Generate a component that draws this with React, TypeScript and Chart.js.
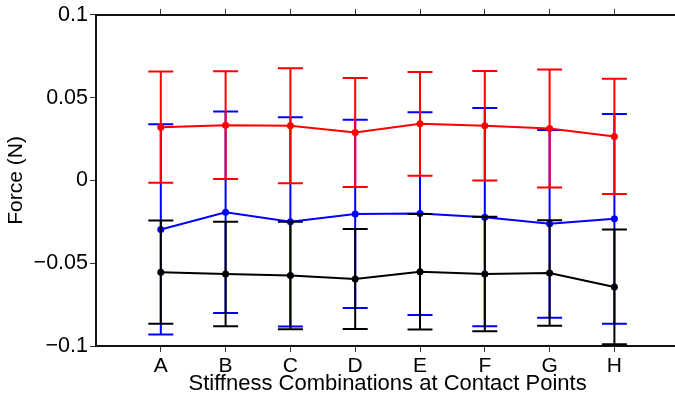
import { useEffect, useRef } from 'react';
import { Chart, registerables } from 'chart.js';

Chart.register(...registerables);

const categories = ['A', 'B', 'C', 'D', 'E', 'F', 'G', 'H'];
const yTicks = [-0.1, -0.05, 0, 0.05, 0.1];

const redMean = [0.0322, 0.0334, 0.033, 0.029, 0.0342, 0.033, 0.0314, 0.0266];
const redErr = [0.0336, 0.0325, 0.0347, 0.0329, 0.0313, 0.0331, 0.0356, 0.0348];

const blueMean = [-0.0296, -0.0192, -0.025, -0.0202, -0.02, -0.0222, -0.0262, -0.0232];
const blueErr = [0.0635, 0.0609, 0.0632, 0.0568, 0.0612, 0.0659, 0.0567, 0.0633];

const blackMean = [-0.0554, -0.0565, -0.0574, -0.0595, -0.0551, -0.0565, -0.0559, -0.0643];
const blackErr = [0.0312, 0.0315, 0.0325, 0.0302, 0.0349, 0.0346, 0.0319, 0.0347];

const FONT = '"Liberation Sans", Arial, Helvetica, sans-serif';
const CAP = 12.5;

const errorBarPlugin = {
  id: 'errorBars',
  beforeDatasetDraw(chart: any, args: any) {
    const ds: any = chart.data.datasets[args.index];
    if (!ds.errors) return;
    const { ctx } = chart;
    const xs = chart.scales.x;
    const ys = chart.scales.y;
    ctx.save();
    ctx.strokeStyle = ds.borderColor;
    ctx.lineWidth = 2;
    ds.data.forEach((p: any, i: number) => {
      const e = ds.errors[i];
      const px = xs.getPixelForValue(p.x);
      const top = ys.getPixelForValue(p.y + e);
      const bot = ys.getPixelForValue(p.y - e);
      ctx.beginPath();
      ctx.moveTo(px, top);
      ctx.lineTo(px, bot);
      ctx.moveTo(px - CAP, top);
      ctx.lineTo(px + CAP, top);
      ctx.moveTo(px - CAP, bot);
      ctx.lineTo(px + CAP, bot);
      ctx.stroke();
    });
    ctx.restore();
  },
};

const toPoints = (vals: number[]) => vals.map((v, i) => ({ x: i + 1, y: v }));
const catTicks = (s: any) => {
  s.ticks = categories.map((_, i) => ({ value: i + 1 }));
};

export default function App() {
  const ref = useRef<HTMLCanvasElement>(null);

  useEffect(() => {
    if (!ref.current) return;
    const grid = {
      display: true,
      drawOnChartArea: false,
      drawTicks: true,
      tickLength: 6,
      color: '#333',
      lineWidth: 1,
    };
    const border = { display: true, color: '#111', width: 2 };
    const chart = new Chart(ref.current, {
      type: 'line',
      data: {
        datasets: [
          {
            label: 'red',
            data: toPoints(redMean),
            errors: redErr,
            borderColor: '#ff0000',
            backgroundColor: '#ff0000',
            borderWidth: 2,
            pointRadius: 3.5,
            pointBorderWidth: 0,
            tension: 0,
          } as any,
          {
            label: 'black',
            data: toPoints(blackMean),
            errors: blackErr,
            borderColor: '#000000',
            backgroundColor: '#000000',
            borderWidth: 2,
            pointRadius: 3.5,
            pointBorderWidth: 0,
            tension: 0,
          } as any,
          {
            label: 'blue',
            data: toPoints(blueMean),
            errors: blueErr,
            borderColor: '#0000ff',
            backgroundColor: '#0000ff',
            borderWidth: 2,
            pointRadius: 3.5,
            pointBorderWidth: 0,
            tension: 0,
          } as any,
        ],
      },
      options: {
        animation: false,
        responsive: false,
        devicePixelRatio: 1,
        layout: { padding: { left: 0, top: 0, bottom: 0, right: 10.8 } },
        plugins: { legend: { display: false }, tooltip: { enabled: false } },
        scales: {
          x: {
            type: 'linear',
            position: 'bottom',
            min: 0,
            max: 9,
            afterBuildTicks: catTicks,
            afterFit: (s: any) => {
              s.height = 54;
            },
            ticks: {
              callback: (v: any) => categories[Number(v) - 1] ?? '',
              font: { family: FONT, size: 21 },
              color: '#000',
              padding: 2,
              maxRotation: 0,
              autoSkip: false,
            },
            grid,
            border,
            title: {
              display: true,
              text: 'Stiffness Combinations at Contact Points',
              font: { family: FONT, size: 22 },
              color: '#000',
              padding: { top: 0, bottom: 3 },
            },
          },
          x2: {
            type: 'linear',
            position: 'top',
            min: 0,
            max: 9,
            afterBuildTicks: catTicks,
            afterFit: (s: any) => {
              s.height = 13;
            },
            ticks: { display: false },
            grid,
            border,
          },
          y: {
            type: 'linear',
            min: -0.1,
            max: 0.1,
            afterBuildTicks: (s: any) => {
              s.ticks = yTicks.map((v) => ({ value: v }));
            },
            afterFit: (s: any) => {
              s.width = 96;
            },
            ticks: {
              callback: (v: any) => {
                const n = Number(v);
                if (Math.abs(n) < 1e-12) return '0';
                return (n < 0 ? '\u2212' : '') + String(Math.abs(Math.round(n * 1000) / 1000));
              },
              font: { family: FONT, size: 21.5 },
              color: '#000',
              padding: 2,
            },
            grid,
            border,
            title: {
              display: true,
              text: 'Force (N)',
              font: { family: FONT, size: 21 },
              color: '#000',
              padding: { top: 4, bottom: 0 },
            },
          },
        },
      } as any,
      plugins: [errorBarPlugin],
    });
    return () => chart.destroy();
  }, []);

  return (
    <div
      style={{
        position: 'fixed',
        left: 0,
        top: 0,
        width: 675,
        height: 400,
        overflow: 'hidden',
        background: '#fff',
      }}
    >
      <canvas ref={ref} width={690} height={400} style={{ display: 'block' }} />
    </div>
  );
}
